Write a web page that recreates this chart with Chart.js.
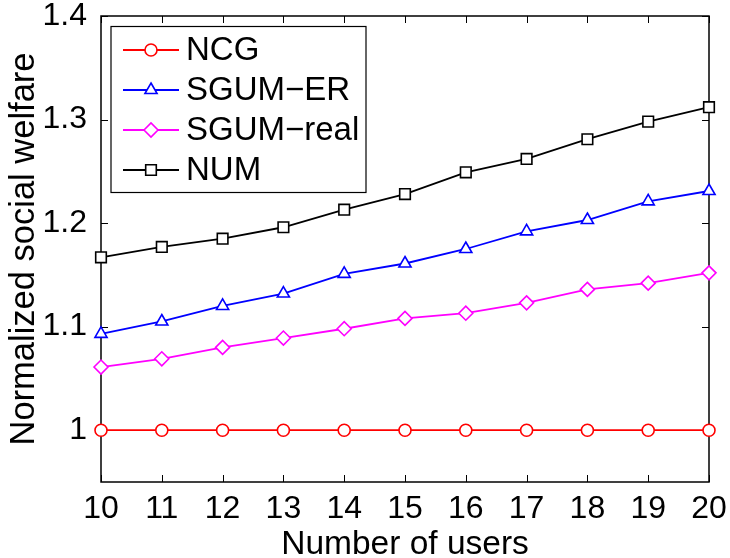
<!DOCTYPE html>
<html>
<head>
<meta charset="utf-8">
<script src="https://cdn.jsdelivr.net/npm/chart.js@4.4.0/dist/chart.umd.min.js"></script>
<style>
  html, body { margin: 0; padding: 0; background: #fff; }
  #wrap { width: 730px; height: 558px; }
</style>
</head>
<body>
<div id="wrap"><canvas id="chartWelfare" width="730" height="558"></canvas></div>
<script>
// normalized social welfare vs. number of users
const users = [10, 11, 12, 13, 14, 15, 16, 17, 18, 19, 20];
const ncg = [1, 1, 1, 1, 1, 1, 1, 1, 1, 1, 1];
const sgumEr = [1.093, 1.105, 1.120, 1.132, 1.151, 1.161, 1.175, 1.192, 1.203, 1.221, 1.231];
const sgumReal = [1.061, 1.069, 1.080, 1.089, 1.098, 1.108, 1.113, 1.123, 1.136, 1.142, 1.152];
const num = [1.167, 1.177, 1.185, 1.196, 1.213, 1.228, 1.249, 1.262, 1.281, 1.298, 1.312];
const yTicks = [1, 1.1, 1.2, 1.3, 1.4];

const FONT = "'Liberation Sans', Arial, Helvetica, sans-serif";

const toPoints = (vals) => users.map((u, i) => ({x: u, y: vals[i]}));

const serie = (label, vals, color, style, radius) => ({
    label: label,
    data: toPoints(vals),
    borderColor: color,
    borderWidth: 1.8,
    pointStyle: style,
    pointRadius: radius,
    pointHoverRadius: radius,
    pointBorderColor: color,
    pointBackgroundColor: '#fff',
    pointBorderWidth: 1.6,
    tension: 0,
    clip: false
});

// box around the plot with inward ticks on all four sides
const axisFrame = {
    id: 'axisFrame',
    beforeDatasetsDraw(chart) {
        const {ctx, chartArea: a, scales: {x, y}} = chart;
        const tl = 7;
        ctx.save();
        ctx.strokeStyle = '#000';
        ctx.lineWidth = 1;
        ctx.beginPath();
        users.forEach(v => {
            const px = Math.round(x.getPixelForValue(v)) + 0.5;
            ctx.moveTo(px, a.bottom); ctx.lineTo(px, a.bottom - tl);
            ctx.moveTo(px, a.top); ctx.lineTo(px, a.top + tl);
        });
        yTicks.forEach(v => {
            const py = Math.round(y.getPixelForValue(v)) + 0.5;
            ctx.moveTo(a.left, py); ctx.lineTo(a.left + tl, py);
            ctx.moveTo(a.right, py); ctx.lineTo(a.right - tl, py);
        });
        ctx.stroke();
        ctx.lineWidth = 1.5;
        ctx.strokeRect(a.left, a.top, a.right - a.left, a.bottom - a.top);
        ctx.restore();
    }
};

// legend box in the upper left corner of the plot
const boxLegend = {
    id: 'boxLegend',
    afterDraw(chart) {
        const {ctx, chartArea: a} = chart;
        const bx = a.left + 10, by = a.top + 10.5, bw = 255, bh = 166;
        ctx.save();
        ctx.fillStyle = '#fff';
        ctx.fillRect(bx, by, bw, bh);
        ctx.strokeStyle = '#000';
        ctx.lineWidth = 1.2;
        ctx.strokeRect(bx, by, bw, bh);
        ctx.font = '33px ' + FONT;
        ctx.textBaseline = 'middle';
        chart.data.datasets.forEach((ds, i) => {
            const ry = by + 23.5 + i * 40;
            ctx.strokeStyle = ds.borderColor;
            ctx.lineWidth = ds.borderWidth;
            ctx.beginPath();
            ctx.moveTo(bx + 12, ry);
            ctx.lineTo(bx + 68, ry);
            ctx.stroke();
            ctx.fillStyle = '#fff';
            ctx.lineWidth = ds.pointBorderWidth;
            ctx.strokeStyle = ds.pointBorderColor;
            Chart.helpers.drawPoint(ctx, {
                pointStyle: ds.pointStyle,
                radius: ds.pointRadius,
                rotation: 0,
                borderWidth: ds.pointBorderWidth
            }, bx + 40, ry);
            ctx.fillStyle = '#000';
            ctx.fillText(ds.label, bx + 75, ry + 1);
        });
        ctx.restore();
    }
};

const ctx = document.getElementById('chartWelfare');

new Chart(ctx, {
    type: 'line',
    data: {
        datasets: [
            serie('NCG', ncg, '#ff0000', 'circle', 6),
            serie('SGUM\u2212ER', sgumEr, '#0000ff', 'triangle', 7),
            serie('SGUM\u2212real', sgumReal, '#ff00ff', 'rectRot', 7),
            serie('NUM', num, '#000000', 'rect', 7.5)
        ]
    },
    options: {
        responsive: false,
        animation: false,
        layout: { padding: { top: 16, right: 21, left: 0, bottom: 0 } },
        plugins: {
            legend: { display: false },
            tooltip: { enabled: false }
        },
        scales: {
            x: {
                type: 'linear',
                min: 10,
                max: 20,
                afterBuildTicks: (s) => { s.ticks = users.map(v => ({value: v})); },
                afterFit: (s) => {
                    s.height = 76;
                    s.paddingLeft = 0; s.paddingRight = 0;
                    s.paddingTop = 0; s.paddingBottom = 0;
                },
                grid: { display: false },
                border: { display: false },
                ticks: {
                    color: '#000',
                    font: { family: FONT, size: 32, lineHeight: 1 },
                    padding: 3,
                    maxRotation: 0,
                    autoSkip: false
                },
                title: {
                    display: true,
                    text: 'Number of users',
                    color: '#000',
                    font: { family: FONT, size: 33.5, lineHeight: 0.8 },
                    padding: 0
                }
            },
            y: {
                min: 0.95,
                max: 1.4,
                afterBuildTicks: (s) => { s.ticks = yTicks.map(v => ({value: v})); },
                afterFit: (s) => {
                    s.width = 101;
                    s.paddingLeft = 0; s.paddingRight = 0;
                    s.paddingTop = 0; s.paddingBottom = 0;
                },
                grid: { display: false },
                border: { display: false },
                ticks: {
                    color: '#000',
                    font: { family: FONT, size: 32, lineHeight: 1 },
                    padding: 6,
                    callback: (v) => String(+v.toFixed(2))
                },
                title: {
                    display: true,
                    text: 'Normalized social welfare',
                    color: '#000',
                    font: { family: FONT, size: 34.5, lineHeight: 1 },
                    padding: { top: 7, bottom: 0 }
                }
            }
        }
    },
    plugins: [axisFrame, boxLegend]
});
</script>
</body>
</html>
